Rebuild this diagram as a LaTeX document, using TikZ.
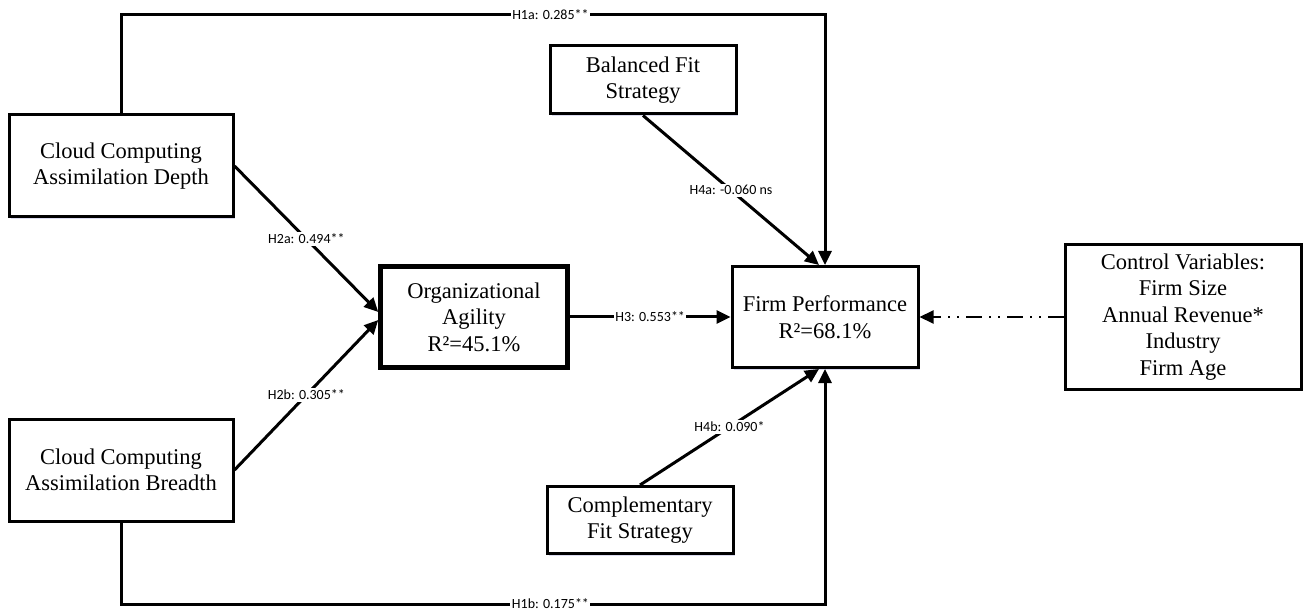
\documentclass[tikz,border=0pt]{standalone}
\usepackage{fontspec}
\setmainfont{Liberation Serif}
\newfontfamily\lblfont{Carlito}
\usepackage{tikz}
\usetikzlibrary{arrows.meta, shadows}

\begin{document}
\begin{tikzpicture}[
  x=1pt, y=-1pt,
  cbox/.style={rectangle, draw=black, line width=3pt, fill=white,
               inner sep=0pt, align=center,
               font=\fontsize{22.5}{26.5}\selectfont,
               drop shadow={shadow xshift=2pt, shadow yshift=-2pt,
                            fill=blue!40!gray, opacity=0.2}},
  kbox/.style={cbox, line width=4.5pt},
  parr/.style={-{Triangle[length=14pt, width=13pt]}, line width=3pt},
  carr/.style={-{Triangle[length=14pt, width=13pt]}, line width=2pt,
               dash pattern=on 16pt off 7pt on 2pt off 7pt on 2pt off 7pt},
  lbl/.style={fill=white, inner sep=1.5pt, font=\lblfont\fontsize{14}{15}\selectfont}
]
\useasboundingbox (0,0) rectangle (1304,612);

%% ─── Constructos ────────────────────────────────────────────
\node[cbox, minimum width=224pt, minimum height=102pt] (depth)   at (121, 166)
    {Cloud Computing\\Assimilation Depth};
\node[cbox, minimum width=224pt, minimum height=102pt] (breadth) at (121, 470)
    {Cloud Computing\\Assimilation Breadth};
\node[kbox, minimum width=187pt, minimum height=101pt] (oa)      at (474, 317)
    {Organizational\\Agility\\R²=45.1\%};
\node[cbox, minimum width=186pt, minimum height=101pt] (fp)      at (825, 317)
    {Firm Performance\\R²=68.1\%};
\node[cbox, minimum width=186pt, minimum height=68pt]  (bfs)     at (643, 80)
    {Balanced Fit\\Strategy};
\node[cbox, minimum width=186pt, minimum height=67pt]  (cfs)     at (640, 520)
    {Complementary\\Fit Strategy};
\node[cbox, minimum width=236pt, minimum height=144pt] (cv)      at (1183, 317)
    {Control Variables:\\Firm Size\\Annual Revenue*\\Industry\\Firm Age};

%% ─── Rutas directas ─────────────────────────────────────────
\coordinate (toprow) at (0, 15);
\coordinate (botrow) at (0, 604);
\draw[parr] (depth.north) -- (depth.north |- toprow)
    -- node[lbl, pos=0.61]{H1a: 0.285**} (fp.north |- toprow) -- (fp.north);
\draw[parr] (breadth.south) -- (breadth.south |- botrow)
    -- node[lbl, pos=0.61]{H1b: 0.175**} (fp.south |- botrow) -- (fp.south);

%% ─── Mediación ──────────────────────────────────────────────
\draw[parr] (depth.east) -- node[lbl]{H2a: 0.494**} ([yshift=5pt]oa.west);
\draw[parr] (breadth.east) -- node[lbl]{H2b: 0.305**} ([yshift=-3pt]oa.west);
\draw[parr] (oa.east) -- node[lbl]{H3: 0.553**} (fp.west);

%% ─── Moderación y controles ─────────────────────────────────
\draw[parr] (bfs.south) -- node[lbl]{H4a: -0.060 ns} ([xshift=-6pt]fp.north);
\draw[parr] (cfs.north) -- node[lbl]{H4b: 0.090*} ([xshift=-6pt]fp.south);
\draw[carr] (cv.west) -- (fp.east);

\end{tikzpicture}
\end{document}
